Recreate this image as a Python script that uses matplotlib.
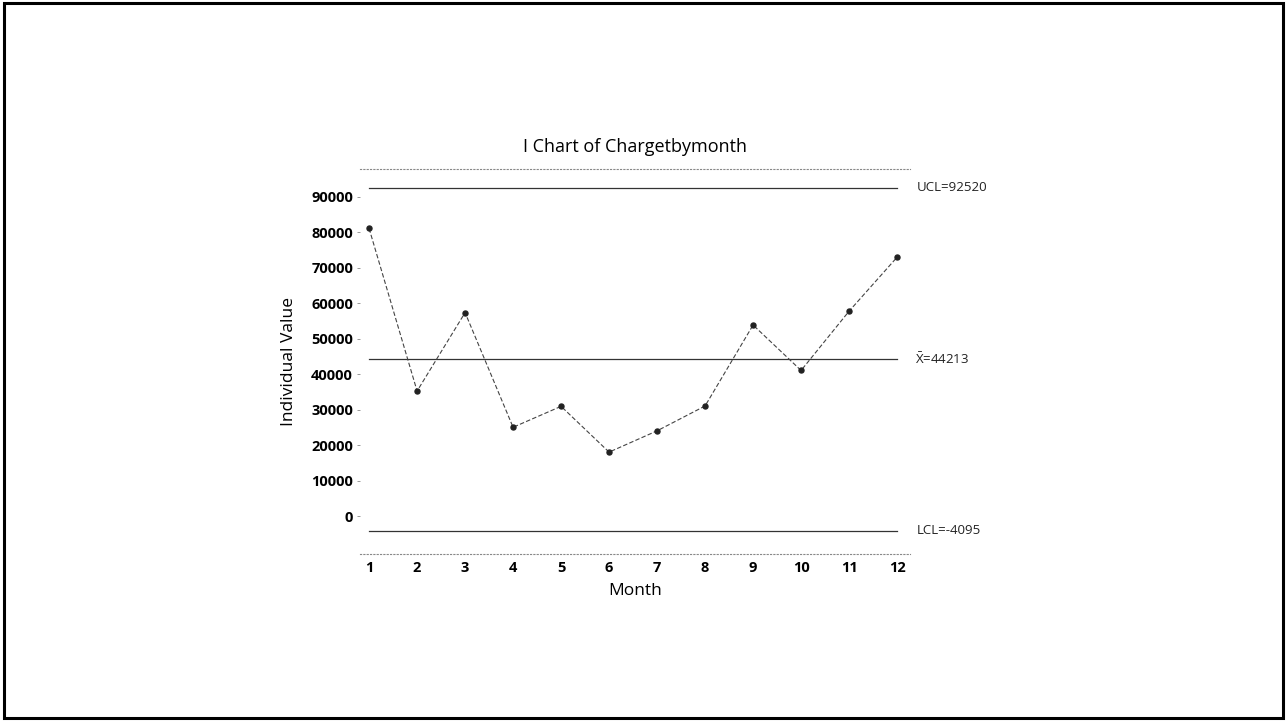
import matplotlib
matplotlib.use("Agg")
import matplotlib.pyplot as plt
from matplotlib.patches import Rectangle

months = list(range(1, 13))
values = [81000, 35200, 57300, 25000, 30900, 18000, 24000, 31000, 53800, 41000, 57700, 72900]
ucl = 92520
mean = 44213
lcl = -4095
yticks = [0, 10000, 20000, 30000, 40000, 50000, 60000, 70000, 80000, 90000]
limit_labels = ["UCL=92520", r"$\bar{\mathrm{X}}$=44213", "LCL=-4095"]

plt.rcParams['font.family'] = ['Open Sans', 'DejaVu Sans']
plt.rcParams['mathtext.fontset'] = 'custom'
plt.rcParams['mathtext.rm'] = 'Open Sans'

fig = plt.figure(figsize=(12.87, 7.21), dpi=100)
fig.patches.append(Rectangle((0.003, 0.004), 0.994, 0.992, transform=fig.transFigure,
                             fill=False, edgecolor='black', linewidth=2.2))

ax = fig.add_axes([0.2797, 0.2316, 0.4274, 0.534])
ax.set_xlim(0.81, 12.27)
ax.set_ylim(-10700, 97750)

ax.plot(months, values, linestyle=(0, (4, 2)), color='#444444', linewidth=0.8,
        marker='o', markersize=3.6, markerfacecolor='#222222', markeredgecolor='#222222', zorder=3)

for yv in (ucl, mean, lcl):
    ax.plot([1, 12], [yv, yv], color='#333333', linewidth=0.9, zorder=2)

ax.text(12.42, ucl, limit_labels[0], va='center', ha='left', fontsize=9.5, color='#222222')
ax.text(12.38, mean, limit_labels[1], va='center', ha='left', fontsize=9.5, color='#222222')
ax.text(12.42, lcl, limit_labels[2], va='center', ha='left', fontsize=9.5, color='#222222')

for s in ('left', 'right'):
    ax.spines[s].set_visible(False)
for s in ('top', 'bottom'):
    ax.spines[s].set_linestyle((0, (1, 2)))
    ax.spines[s].set_color('#888888')
    ax.spines[s].set_linewidth(0.8)

ax.set_yticks(yticks)
ax.set_yticklabels([str(v) for v in yticks], fontsize=10.5, fontweight='bold')
ax.set_xticks(months)
ax.set_xticklabels([str(m) for m in months], fontsize=10.5, fontweight='bold')
ax.tick_params(axis='y', length=2, width=0.6, color='#888888', pad=3)
ax.tick_params(axis='x', length=0, pad=5)

ax.set_title("I Chart of Chargetbymonth", fontsize=13, pad=12)
ax.set_ylabel("Individual Value", fontsize=12.5, labelpad=10)
ax.set_xlabel("Month", fontsize=12.5, labelpad=6)

fig.savefig("out.png", dpi=100)
